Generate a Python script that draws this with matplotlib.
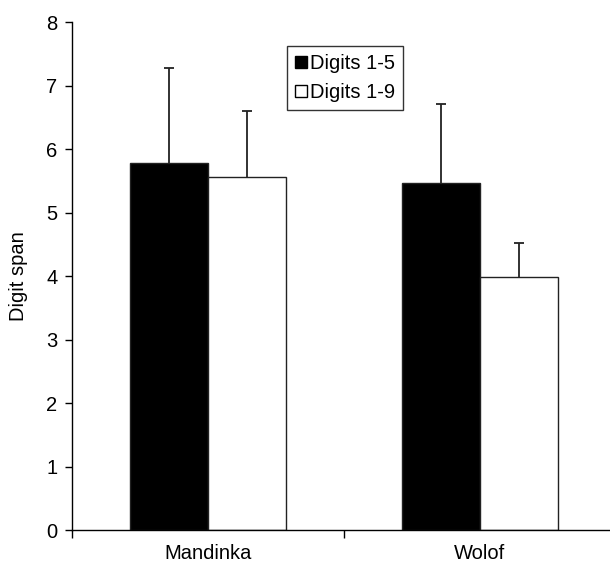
import matplotlib
matplotlib.use("Agg")
import matplotlib.pyplot as plt
import numpy as np
from matplotlib.patches import Patch

plt.rcParams['font.family'] = ['Liberation Sans', 'DejaVu Sans']

categories = ["Mandinka", "Wolof"]
series_names = ["Digits 1-5", "Digits 1-9"]
digits_1_5 = [5.78, 5.46]
digits_1_5_err = [1.50, 1.25]
digits_1_9 = [5.56, 3.98]
digits_1_9_err = [1.04, 0.54]
yticks = [0, 1, 2, 3, 4, 5, 6, 7, 8]

FS = 14.5
fig = plt.figure(figsize=(6.10, 5.63), dpi=100)
ax = fig.add_axes([72/610, (563-530.3)/563, (616-72)/610, (530.3-22)/563])

x = np.arange(len(categories))
w = 0.286
ekw = dict(ecolor='#222222', elinewidth=1.3, capsize=3.4, capthick=1.3)
b1 = ax.bar(x - w/2, digits_1_5, w, color='black', edgecolor='#222222', linewidth=1,
            yerr=[np.zeros(2), digits_1_5_err], error_kw=ekw)
b2 = ax.bar(x + w/2, digits_1_9, w, color='white', edgecolor='#222222', linewidth=1,
            yerr=[np.zeros(2), digits_1_9_err], error_kw=ekw)
for b in (b1, b2):
    caps = b.errorbar.lines[1]
    if len(caps) == 2:
        caps[0].set_visible(False)

ax.set_xlim(-0.5, 1.5)
ax.set_ylim(0, 8)
ax.set_yticks(yticks)
ax.set_yticklabels([str(t) for t in yticks], fontsize=FS)
ax.set_xticks([-0.5, 0.5, 1.5])
ax.set_xticklabels([])
ax.set_xticks(x, minor=True)
ax.set_xticklabels(categories, minor=True, fontsize=FS)
ax.tick_params(axis='x', which='minor', length=0, pad=10)
ax.tick_params(axis='x', which='major', length=6, width=1, direction='out')
ax.tick_params(axis='y', length=5, width=1, direction='out', pad=5.5)
for s in ['top', 'right']:
    ax.spines[s].set_visible(False)
ax.spines['left'].set_linewidth(1)
ax.spines['bottom'].set_linewidth(1)
ax.set_ylabel("Digit span", fontsize=FS)
ax.yaxis.set_label_coords(-44/544, 0.5)

handles = [Patch(facecolor='black', edgecolor='black', label=series_names[0]),
           Patch(facecolor='white', edgecolor='black', label=series_names[1])]
leg = ax.legend(handles=handles, loc='upper left', bbox_to_anchor=((287-72)/544, (530.3-46)/508.3),
                fontsize=FS, frameon=True, fancybox=False, edgecolor='black',
                handlelength=0.6, handleheight=0.6, handletextpad=0.15, borderpad=0.4,
                labelspacing=0.5, borderaxespad=0)
leg.get_frame().set_linewidth(1)

fig.savefig("out.png", dpi=100)
